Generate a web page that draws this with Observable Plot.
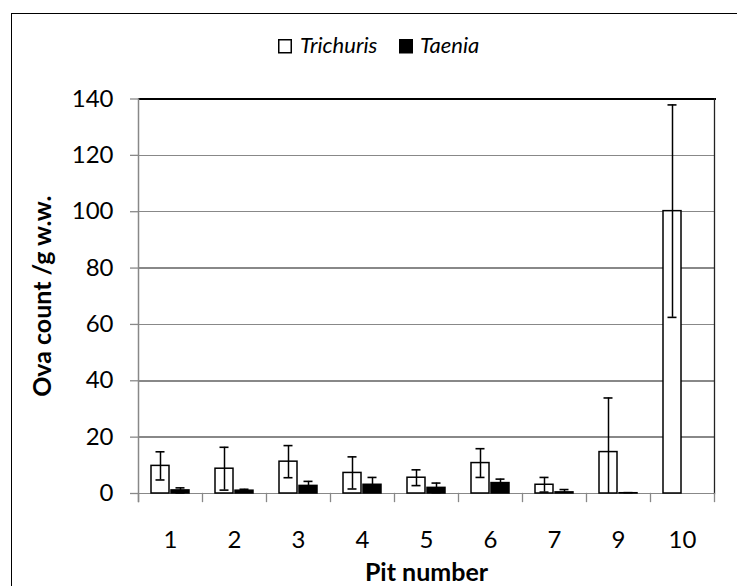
<!DOCTYPE html>
<html><head><meta charset="utf-8">
<script src="https://cdn.jsdelivr.net/npm/d3@7"></script>
<script src="https://cdn.jsdelivr.net/npm/@observablehq/plot@0.6"></script>
<style>
html,body{margin:0;padding:0;background:#fff;overflow:hidden;}
#wrap{position:relative;width:737px;height:586px;overflow:hidden;background:#fff;}
#border{position:absolute;left:10.5px;top:12.5px;width:900px;height:900px;border:1.5px solid #000;}
#chart{position:absolute;left:0;top:0;}
#legend{position:absolute;left:0;top:0;}
g[aria-label="y-axis label"] text, g[aria-label="fx-axis label"] text{font-weight:bold;font-size:25px;}
</style></head>
<body><div id="wrap"><div id="border"></div><div id="chart"></div><svg id="legend" width="737" height="70"></svg></div>
<script>
const pits = ["1","2","3","4","5","6","7","9","10"];
const species = ["Trichuris","Taenia"];
const trichuris = [9.8, 8.8, 11.3, 7.3, 5.6, 10.8, 3.1, 14.7, 100.2];
const trichurisErr = [5.0, 7.6, 5.7, 5.7, 2.8, 5.1, 2.6, 19.2, 37.7];
const taenia = [1.1, 1.0, 2.7, 3.1, 2.0, 3.7, 0.4, 0.1, null];
const taeniaErr = [0.9, 0.5, 1.6, 2.6, 1.7, 1.4, 1.0, 0.2, null];
const yTicks = [0, 20, 40, 60, 80, 100, 120, 140];

const rows = [];
pits.forEach((p, i) => {
  if (trichuris[i] != null) rows.push({pit: p, species: "Trichuris", value: trichuris[i], err: trichurisErr[i]});
  if (taenia[i] != null) rows.push({pit: p, species: "Taenia", value: taenia[i], err: taeniaErr[i]});
});
const errRows = rows.filter(d => d.err != null).map(d => ({...d, lo: Math.max(0, d.value - d.err), hi: d.value + d.err, loOk: d.value - d.err >= 0}));
const capRows = [];
errRows.forEach(d => {
  capRows.push({pit: d.pit, species: d.species, y: d.hi});
  if (d.loOk) capRows.push({pit: d.pit, species: d.species, y: d.lo});
});

const gray = "#888";
const crisp = "crispEdges";
const chart = Plot.plot({
  width: 737, height: 586,
  marginLeft: 135, marginRight: 21, marginTop: 98.5, marginBottom: 93,
  style: {fontFamily: "Lato", fontSize: "24px", color: "black", background: "transparent", overflow: "visible"},
  fx: {domain: pits, padding: 0, label: "Pit number"},
  x: {domain: species, paddingInner: 0.1, paddingOuter: 0.58, axis: null},
  y: {domain: [0, 140], label: "Ova count /g w.w."},
  color: {domain: species, range: ["white", "black"]},
  marks: [
    Plot.gridY({ticks: yTicks.filter(t => t > 0 && t < 140), stroke: gray, strokeOpacity: 1, strokeWidth: 1.5, shapeRendering: crisp}),
    Plot.ruleY([0], {stroke: gray, strokeWidth: 1.5, shapeRendering: crisp}),
    Plot.frame({anchor: "top", stroke: "black", strokeWidth: 2, shapeRendering: crisp}),
    Plot.frame({anchor: "right", fx: () => "10", stroke: "#222", strokeWidth: 1.3}),
    Plot.frame({anchor: "left", fx: () => "1", stroke: gray, strokeWidth: 1.5, insetBottom: -8}),
    Plot.frame({anchor: "left", stroke: gray, strokeWidth: 1.3, insetTop: 394.5, insetBottom: -8}),
    Plot.frame({anchor: "right", fx: () => "10", stroke: gray, strokeWidth: 1.3, insetTop: 394.5, insetBottom: -8}),
    Plot.barY(rows, {fx: "pit", x: "species", y: "value", fill: "species", stroke: "black", strokeWidth: 1.5}),
    Plot.ruleX(errRows, {fx: "pit", x: "species", y1: "lo", y2: "hi", stroke: "black", strokeWidth: 1.5}),
    Plot.tickY(capRows, {fx: "pit", x: "species", y: "y", stroke: "black", strokeWidth: 1.6, insetLeft: 4.5, insetRight: 4.5}),
    Plot.axisY({ticks: yTicks, tickSize: 8, tickPadding: 17, stroke: gray, strokeWidth: 1.3, fontSize: 24, label: "Ova count /g w.w.", labelAnchor: "center", labelOffset: 105, labelArrow: "none"}),
    Plot.axisFx({anchor: "bottom", tickSize: 0, tickPadding: 37, fontSize: 24, label: "Pit number", labelAnchor: "center", labelOffset: 87, labelArrow: "none"})
  ]
});
document.getElementById("chart").appendChild(chart);

// legend
const lg = d3.select("#legend");
const items = [
  {name: species[0], box: 278, text: 300, fill: "white"},
  {name: species[1], box: 399, text: 420, fill: "black"}
];
items.forEach(it => {
  lg.append("rect").attr("x", it.box + 0.75).attr("y", 39.75).attr("width", 12.5).attr("height", 13)
    .attr("fill", it.fill).attr("stroke", "black").attr("stroke-width", 1.5);
  lg.append("text").attr("x", it.text).attr("y", 53.3).attr("font-family", "Lato")
    .attr("font-style", "italic").attr("font-size", 22).attr("fill", "black").text(it.name);
});
</script>
</body></html>
